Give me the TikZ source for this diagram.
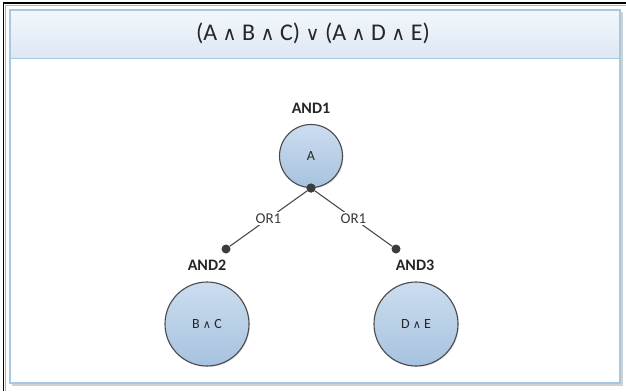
\documentclass[tikz,border=0pt]{standalone}
\usepackage{fontspec}
\setmainfont{Carlito}
\newfontfamily\symfont{DejaVu Sans}
\usetikzlibrary{shadows}
\newcommand{\wdg}{{\symfont\scalebox{0.8}{∧}}}
\newcommand{\orsym}{{\symfont\scalebox{0.8}{∨}}}
\definecolor{frameblue}{HTML}{A9C6E3}
\definecolor{headtop}{HTML}{F3F7FC}
\definecolor{headbot}{HTML}{DDE8F4}
\definecolor{balltop}{HTML}{CCDDEF}
\definecolor{ballbot}{HTML}{A7C2DF}
\definecolor{ink}{HTML}{262626}
\definecolor{edge}{HTML}{4A4A4A}
\tikzset{
  ball/.style={circle, draw=edge, line width=1.1pt, top color=balltop, bottom color=ballbot,
    inner sep=0pt, text=ink, font=\fontsize{14}{16}\selectfont,
    drop shadow={opacity=0.25, shadow xshift=1pt, shadow yshift=-1pt}},
  tag/.style={text=ink, font=\bfseries\fontsize{16}{18}\selectfont},
  joint/.style={circle, fill=ink!90, inner sep=0pt, minimum size=9pt},
  link/.style={draw=edge, line width=1.1pt},
  orlabel/.style={fill=white, text=ink!90, inner xsep=3pt, inner ysep=2pt, font=\fontsize{15}{17}\selectfont}
}
\begin{document}
\begin{tikzpicture}[x=1pt,y=-1pt]
  % page
  \fill[white] (0,0) rectangle (626,391);
  \useasboundingbox (0,0) rectangle (626,391);
  % dark window edge along top and left
  \draw[black, line width=1.6pt] (3.5,391) -- (3.5,2.8) -- (626,2.8);
  \draw[gray!60, line width=0.8pt] (5.8,391) -- (5.8,5) -- (626,5);
  % panel shadow
  \fill[black!18] (12,12) rectangle (623,386);
  % panel
  \fill[white] (9.5,9.5) rectangle (620,383);
  \shade[top color=headtop, bottom color=headbot] (9.5,9.5) rectangle (620,58);
  \draw[frameblue, line width=1pt] (9.5,58) -- (620,58);
  \draw[frameblue, line width=2pt] (9.5,9.5) rectangle (620,383);
  % title
  \node[text=ink, font=\fontsize{24}{27}\selectfont] (title) at (313,33)
    {(A \wdg{} B \wdg{} C) \orsym{} (A \wdg{} D \wdg{} E)};
  % nodes
  \node[ball, minimum size=63pt] (a) at (311,156) {A};
  \node[ball, minimum size=84pt] (bc) at (207,324) {B \wdg{} C};
  \node[ball, minimum size=84pt] (de) at (416,324) {D \wdg{} E};
  \node[tag] (and1) at (311,108) {AND1};
  \node[tag] (and2) at (207,265) {AND2};
  \node[tag] (and3) at (415,265) {AND3};
  % connectors
  \node[joint] (ja) at (a.south) {};
  \node[joint] (j2) at (226,249) {};
  \node[joint] (j3) at (396,249) {};
  \draw[link] (ja) -- node[orlabel] (or1) {OR1} (j2);
  \draw[link] (ja) -- node[orlabel] (or2) {OR1} (j3);
  \node[joint] at (ja) {};
\end{tikzpicture}
\end{document}
